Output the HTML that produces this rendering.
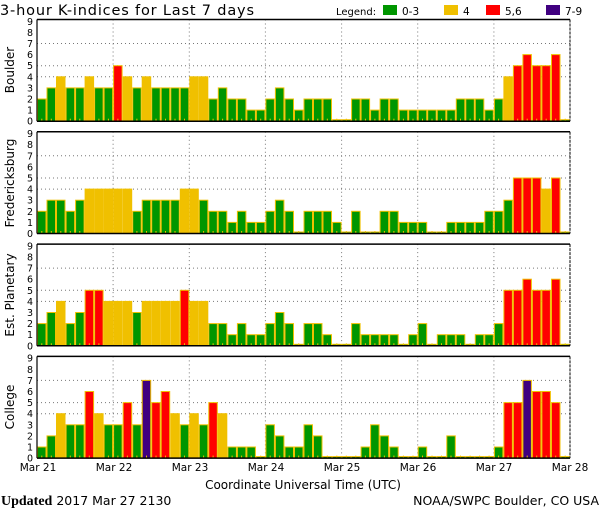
<!DOCTYPE html>
<html><head><meta charset="utf-8"><style>
html,body{margin:0;padding:0;background:#fff;width:600px;height:510px;overflow:hidden}
svg{display:block}
text{font-family:"DejaVu Sans","Liberation Sans",sans-serif;fill:#000}
</style></head><body>
<svg id="s" width="600" height="510" viewBox="0 0 600 510" xmlns="http://www.w3.org/2000/svg">
<text x="0" y="15" font-size="14.5" textLength="254">3-hour K-indices for Last 7 days</text>
<text x="336" y="15" font-size="10">Legend:</text>
<rect x="383" y="5" width="14" height="10" fill="#009600"/><text x="402" y="15" font-size="10.5">0-3</text>
<rect x="444" y="5" width="14" height="10" fill="#f0c000"/><text x="463" y="15" font-size="10.5">4</text>
<rect x="486" y="5" width="14" height="10" fill="#ff0000"/><text x="505" y="15" font-size="10.5">5,6</text>
<rect x="546" y="5" width="14" height="10" fill="#400080"/><text x="565" y="15" font-size="10.5">7-9</text>
<text transform="translate(14,70) rotate(-90)" text-anchor="middle" font-size="12">Boulder</text>
<text transform="translate(14,183) rotate(-90)" text-anchor="middle" font-size="12">Fredericksburg</text>
<text transform="translate(14,295) rotate(-90)" text-anchor="middle" font-size="12">Est. Planetary</text>
<text transform="translate(14,407) rotate(-90)" text-anchor="middle" font-size="12">College</text>
<g font-size="10.5" text-anchor="middle">
<text x="38" y="471">Mar 21</text><text x="114" y="471">Mar 22</text><text x="190" y="471">Mar 23</text><text x="266" y="471">Mar 24</text><text x="342" y="471">Mar 25</text><text x="418" y="471">Mar 26</text><text x="494" y="471">Mar 27</text><text x="570" y="471">Mar 28</text>
</g>
<text x="303" y="489" font-size="12" text-anchor="middle">Coordinate Universal Time (UTC)</text>
<text x="1" y="505" font-size="12.5"><tspan font-family="Liberation Serif,serif" font-weight="bold" font-size="14">Updated</tspan> 2017 Mar 27 2130</text>
<text x="599" y="505" font-size="12.5" text-anchor="end">NOAA/SWPC Boulder, CO USA</text>
<g id="g"></g>
</svg>
<script>
var D=[
[2,3,4,3,3,4,3,3,5,4,3,4,3,3,3,3,4,4,2,3,2,2,1,1,2,3,2,1,2,2,2,0,0,2,2,1,2,2,1,1,1,1,1,1,2,2,2,1,2,4,5,6,5,5,6,0],
[2,3,3,2,3,4,4,4,4,4,2,3,3,3,3,4,4,3,2,2,1,2,1,1,2,3,2,0,2,2,2,1,0,2,0,0,2,2,1,1,1,0,0,1,1,1,1,2,2,3,5,5,5,4,5,0],
[2,3,4,2,3,5,5,4,4,4,3,4,4,4,4,5,4,4,2,2,1,2,1,1,2,3,2,0,2,2,1,0,0,2,1,1,1,1,0,1,2,0,1,1,1,0,1,1,2,5,5,6,5,5,6,0],
[1,2,4,3,3,6,4,3,3,5,3,7,5,6,4,3,4,3,5,4,1,1,1,0,3,2,1,1,3,2,0,0,0,0,1,3,2,1,0,0,1,0,0,2,0,0,0,0,1,5,5,7,6,6,5,0]];
var tops=[19.5,131.8,244.1,356.4],H=101.7,U=11.1,X0=37,X1=570,W=(X1-X0)/56;
var h='';
function col(v){return v<=3?'#009600':v==4?'#f0c000':v<=6?'#ff0000':'#400080';}
for(var p=0;p<4;p++){var t=tops[p],b=t+H;
 for(var k=0;k<=9;k++){h+='<text x="33" y="'+(b-k*U+3.5).toFixed(1)+'" font-size="9.5" text-anchor="end">'+k+'</text>';}
 [4,5,7].forEach(function(k){var y=(b-k*U).toFixed(1);h+='<line x1="'+X0+'" x2="'+X1+'" y1="'+y+'" y2="'+y+'" stroke="#777" stroke-dasharray="1,3"/>';});
 for(var d=1;d<7;d++){var x=(X0+d*8*W).toFixed(1);h+='<line x1="'+x+'" x2="'+x+'" y1="'+t+'" y2="'+b+'" stroke="#777" stroke-dasharray="1,3"/>';}
 for(var i=0;i<56;i++){var v=D[p][i],bh=v==0?1.5:v*U,x=X0+i*W;
  h+='<rect x="'+(x+0.5).toFixed(1)+'" y="'+(b-bh).toFixed(1)+'" width="'+(W-1).toFixed(1)+'" height="'+bh.toFixed(1)+'" fill="'+col(v)+'" stroke="#f0c000" stroke-width="1"/>';
  h+='<rect x="'+(x+W/2-0.5).toFixed(1)+'" y="'+(b-2.5)+'" width="1" height="2" fill="#f0c000"/>';}
 h+='<line x1="'+X0+'" x2="'+X1+'" y1="'+t+'" y2="'+t+'" stroke="#000" stroke-width="1.5"/>';
 h+='<line x1="'+X0+'" x2="'+X1+'" y1="'+b+'" y2="'+b+'" stroke="#000" stroke-width="1.5"/>';
 h+='<line x1="'+X0+'" x2="'+X0+'" y1="'+t+'" y2="'+b+'" stroke="#000" stroke-width="1.2"/>';
 h+='<line x1="'+X1+'" x2="'+X1+'" y1="'+t+'" y2="'+b+'" stroke="#000" stroke-width="1" stroke-dasharray="3,1"/>';
}
document.getElementById('g').innerHTML=h;
</script>
</body></html>
